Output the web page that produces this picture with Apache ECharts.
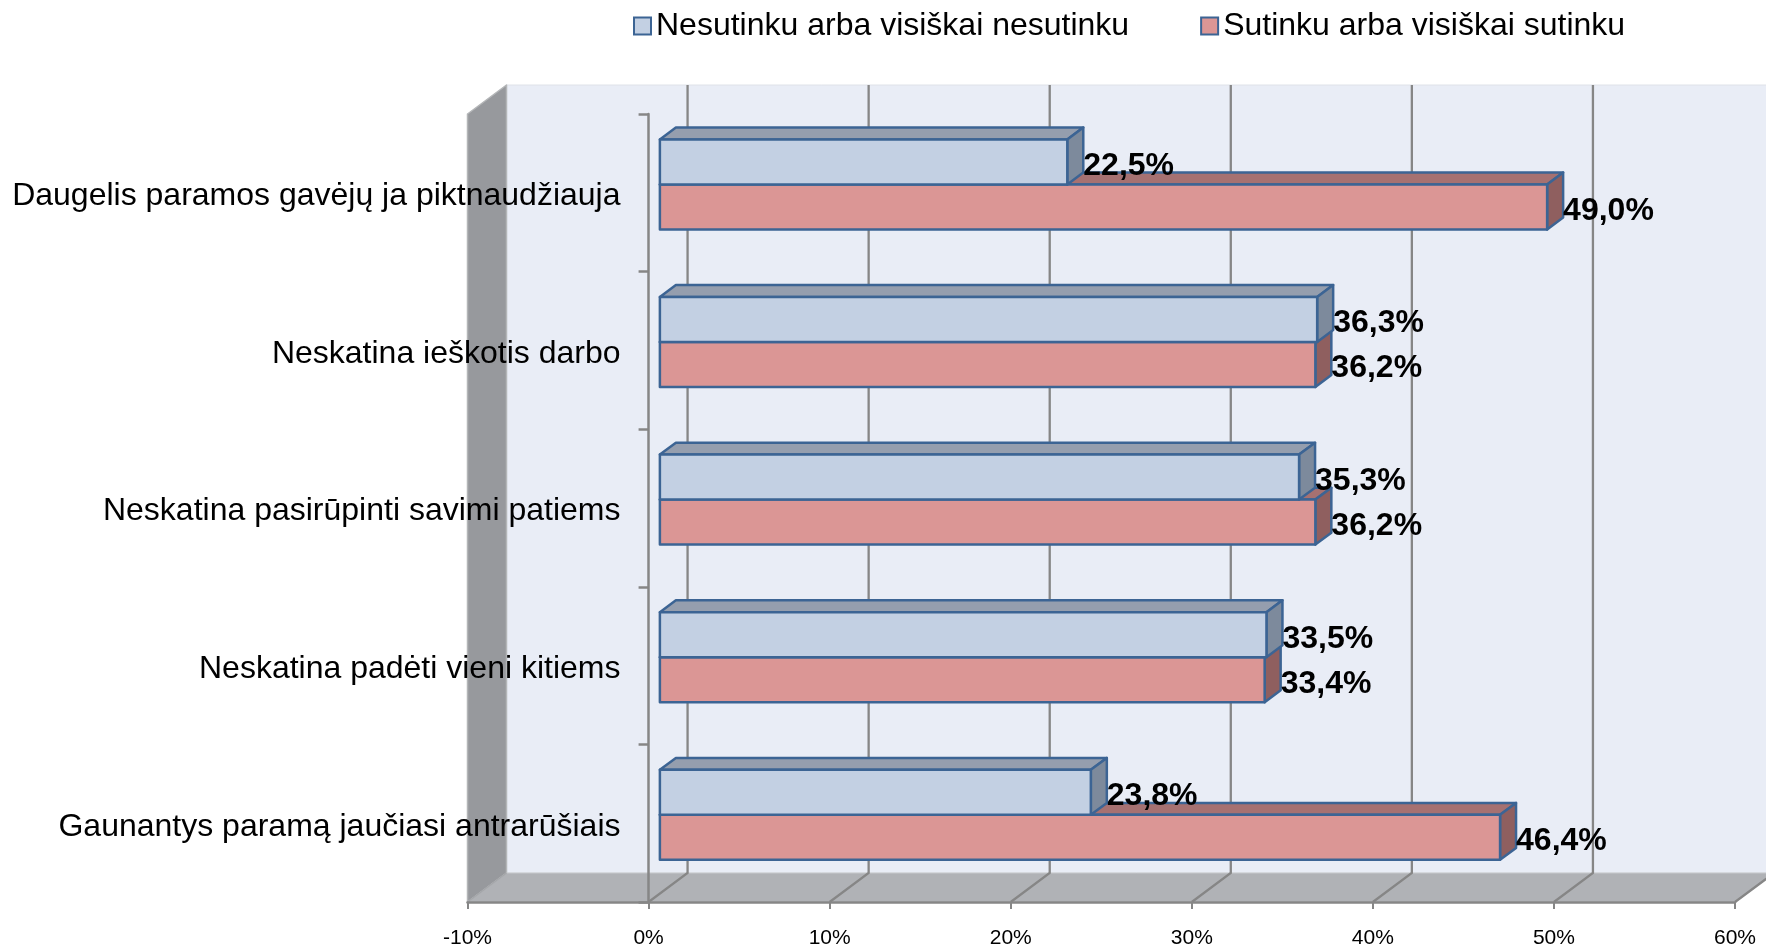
<!DOCTYPE html>
<html>
<head>
<meta charset="utf-8">
<style>
  html, body { margin: 0; padding: 0; background: #fff; }
  #chart { width: 1766px; height: 949px; }
</style>
<script src="https://cdn.jsdelivr.net/npm/echarts@6/dist/echarts.min.js"></script>
</head>
<body>
<div id="chart"></div>
<script>
let categories = [
  'Daugelis paramos gavėjų ja piktnaudžiauja',
  'Neskatina ieškotis darbo',
  'Neskatina pasirūpinti savimi patiems',
  'Neskatina padėti vieni kitiems',
  'Gaunantys paramą jaučiasi antrarūšiais'
];
let disagreeName = 'Nesutinku arba visiškai nesutinku';
let agreeName = 'Sutinku arba visiškai sutinku';
let disagree = [22.5, 36.3, 35.3, 33.5, 23.8];
let agree = [49.0, 36.2, 36.2, 33.4, 46.4];
let xTicks = [-10, 0, 10, 20, 30, 40, 50, 60];

// oblique depth of the 3D box, as the spreadsheet drew it
let wallDepth = [39, -29];
let barGap = 0.29;      // front plane -> front of bar
let barDepth = 0.41;    // front of bar -> back of bar
let barBand = 0.2855;   // bar height as part of category band
let fontFamily = '"Liberation Sans", Arial, sans-serif';
let gridColor = '#868686';

let blue = { front: '#c3d0e3', top: '#959eae', side: '#7d8a9c' };
let red = { front: '#db9695', top: '#a67171', side: '#8f5f5f' };
let barLine = '#3c6494';

function poly(points, fill, stroke, lineWidth) {
  return {
    type: 'polygon',
    shape: { points: points },
    style: { fill: fill, stroke: stroke || 'none', lineWidth: lineWidth || 0, lineJoin: 'round' }
  };
}

function renderWalls(params) {
  let c = params.coordSys;
  let dx = wallDepth[0], dy = wallDepth[1];
  let l = c.x, r = c.x + c.width, t = c.y, b = c.y + c.height;
  return {
    type: 'group',
    children: [
      poly([[l + dx, t + dy], [r + dx, t + dy], [r + dx, b + dy], [l + dx, b + dy]], '#e9edf6', '#dfe2e8', 1),
      poly([[l, t], [l + dx, t + dy], [l + dx, b + dy], [l, b]], '#97999d', '#b4b6b8', 1.5),
      poly([[l, b], [l + dx, b + dy], [r + dx, b + dy], [r, b]], '#b0b2b6', '#c6c8cb', 1)
    ]
  };
}

function renderGridLine(params, api) {
  let c = params.coordSys;
  let x = api.coord([api.value(0), 0])[0];
  let b = c.y + c.height;
  if (api.value(0) === xTicks[0]) {
    return { type: 'line', shape: { x1: x, y1: b, x2: x + wallDepth[0], y2: b + wallDepth[1] }, style: { stroke: '#a4a6a9', lineWidth: 1.5 } };
  }
  return {
    type: 'polyline',
    shape: { points: [[x, b], [x + wallDepth[0], b + wallDepth[1]], [x + wallDepth[0], c.y + wallDepth[1]]] },
    style: { stroke: gridColor, lineWidth: 2.3, fill: 'none' }
  };
}

function barRenderer(colors, isUpper) {
  return function (params, api) {
    let value = api.value(0);
    let cat = api.value(1);
    let start = api.coord([0, cat]);
    let end = api.coord([value, cat]);
    let h = api.size([0, 1])[1] * barBand;
    let ox = wallDepth[0] * barGap, oy = wallDepth[1] * barGap;
    let bx = wallDepth[0] * barDepth, by = wallDepth[1] * barDepth;
    let x0 = start[0] + ox, x1 = end[0] + ox;
    let y0 = (isUpper ? start[1] - h : start[1]) + oy;
    let y1 = y0 + h;
    return {
      type: 'group',
      children: [
        poly([[x0, y0], [x0 + bx, y0 + by], [x1 + bx, y0 + by], [x1, y0]], colors.top, barLine, 2.5),
        poly([[x1, y0], [x1 + bx, y0 + by], [x1 + bx, y1 + by], [x1, y1]], colors.side, barLine, 2.5),
        poly([[x0, y0], [x1, y0], [x1, y1], [x0, y1]], colors.front, barLine, 2.5),
        {
          type: 'text',
          z2: 10,
          style: {
            x: x1 + bx,
            y: (y0 + y1) / 2 + 4,
            text: value.toFixed(1).replace('.', ',') + '%',
            align: 'left',
            verticalAlign: 'middle',
            fill: '#000',
            font: 'bold 32px ' + fontFamily
          }
        }
      ]
    };
  };
}

function toPairs(values) {
  return values.map(function (v, i) { return [v, i]; });
}

let myChart = echarts.init(document.getElementById('chart'), null, { renderer: 'canvas' });

let option = {
  animation: false,
  backgroundColor: '#fff',
  textStyle: { fontFamily: fontFamily },
  legend: {
    data: [disagreeName, agreeName],
    left: 628,
    top: 5,
    icon: 'rect',
    itemWidth: 17,
    itemHeight: 17,
    itemGap: 71,
    selectedMode: false,
    textStyle: { fontSize: 32, color: '#000', fontFamily: fontFamily }
  },
  grid: { left: 467.5, right: 31, top: 114, bottom: 47, outerBoundsMode: 'none' },
  xAxis: {
    type: 'value',
    position: 'bottom',
    min: -10,
    max: 60,
    interval: 10,
    z: 1,
    splitLine: { show: false },
    axisLine: { show: true, onZero: false, lineStyle: { color: gridColor, width: 2.5 } },
    axisTick: { show: true, length: 7, lineStyle: { color: gridColor, width: 2 } },
    axisLabel: { formatter: '{value}%', fontSize: 21, color: '#000', margin: 26, fontFamily: fontFamily }
  },
  yAxis: {
    type: 'category',
    inverse: true,
    data: categories,
    z: 1,
    axisLine: { show: true, onZero: true, lineStyle: { color: gridColor, width: 2.5 } },
    axisTick: { show: true, length: 10, lineStyle: { color: gridColor, width: 2.5 } },
    // short line box pushes the text just under the band centre, as in the original
    axisLabel: { fontSize: 32, color: '#000', margin: -153, fontFamily: fontFamily, interval: 0, verticalAlign: 'top', lineHeight: 7 }
  },
  series: [
    {
      name: 'walls',
      type: 'custom',
      z: 0,
      silent: true,
      renderItem: renderWalls,
      data: [[0, 0]],
      encode: { x: 0, y: 1 }
    },
    {
      name: 'grid',
      type: 'custom',
      z: 0,
      silent: true,
      renderItem: renderGridLine,
      data: xTicks.map(function (t) { return [t, 0]; }),
      encode: { x: 0, y: 1 }
    },
    {
      name: agreeName,
      type: 'custom',
      z: 2,
      renderItem: barRenderer(red, false),
      itemStyle: { color: red.front, borderColor: barLine, borderWidth: 2 },
      data: toPairs(agree),
      encode: { x: 0, y: 1 }
    },
    {
      name: disagreeName,
      type: 'custom',
      z: 3,
      renderItem: barRenderer(blue, true),
      itemStyle: { color: blue.front, borderColor: barLine, borderWidth: 2 },
      data: toPairs(disagree),
      encode: { x: 0, y: 1 }
    }
  ]
};
myChart.setOption(option);
</script>
</body>
</html>
